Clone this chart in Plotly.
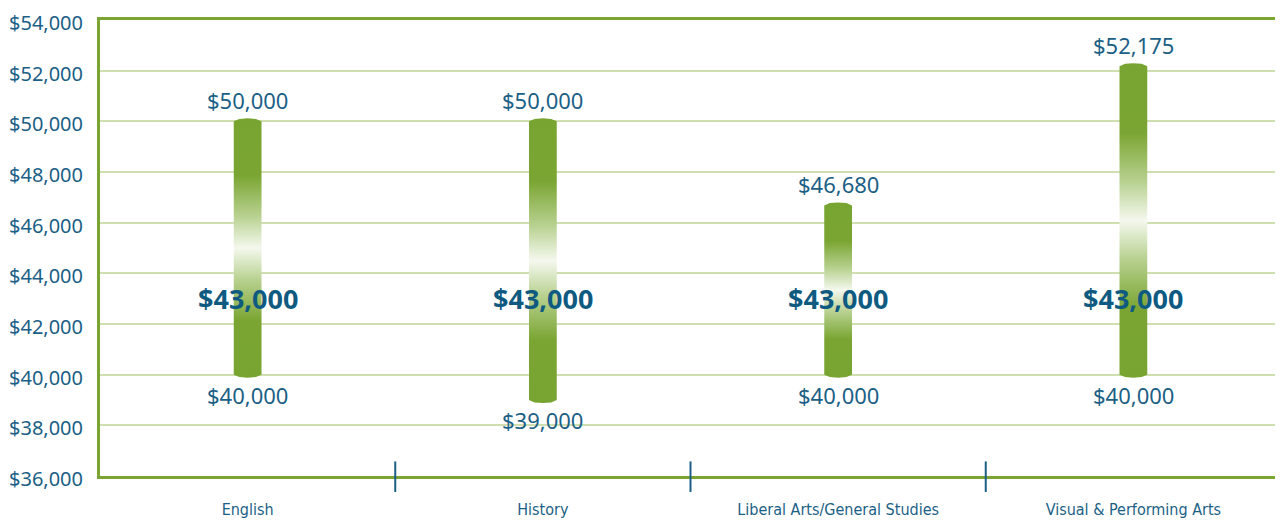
import plotly.graph_objects as go

# salary ranges by major
majors = ['English', 'History', 'Liberal Arts/General Studies', 'Visual & Performing Arts']
low = [40000, 39000, 40000, 40000]
high = [50000, 50000, 46680, 52175]
median = [43000, 43000, 43000, 43000]
yticks = list(range(36000, 54001, 2000))

green = '#78a431'
blue = '#1c5f86'
halfw = 0.047
cap = 120

fig = go.Figure()

for i in range(len(majors)):
    # bar outline with slightly rounded ends
    xs = [i - halfw, i - halfw * 0.6, i, i + halfw * 0.6, i + halfw,
          i + halfw, i + halfw * 0.6, i, i - halfw * 0.6, i - halfw]
    ys = [high[i], high[i] + cap * 0.8, high[i] + cap, high[i] + cap * 0.8, high[i],
          low[i], low[i] - cap * 0.8, low[i] - cap, low[i] - cap * 0.8, low[i]]
    fig.add_trace(go.Scatter(
        x=xs, y=ys, mode='lines', fill='toself',
        line=dict(width=0, color=green),
        fillgradient=dict(type='vertical', colorscale=[
            [0, green], [0.22, '#7aa532'], [0.38, '#b9d292'], [0.5, '#f4f8ee'],
            [0.62, '#b9d292'], [0.78, '#7aa532'], [1, green]]),
        hoverinfo='skip', showlegend=False))

fmt = lambda v: '${:,}'.format(v)
lbl_font = dict(size=22, color=blue, family='Noto Sans')

for i in range(len(majors)):
    fig.add_annotation(x=i, y=high[i], text=fmt(high[i]), showarrow=False,
                       yshift=21, font=lbl_font)
    fig.add_annotation(x=i, y=low[i], text=fmt(low[i]), showarrow=False,
                       yshift=-20, font=lbl_font)
    fig.add_annotation(x=i, y=median[i], text='<b>' + fmt(median[i]) + '</b>',
                       showarrow=False,
                       font=dict(size=27, color='#0f5a80', family='Noto Sans'))

# divider marks between categories
for i in range(len(majors) - 1):
    fig.add_shape(type='line', xref='x', yref='paper', x0=i + 0.5, x1=i + 0.5,
                  y0=-0.035, y1=0.032, line=dict(color=blue, width=2))

# page body keeps an 8px margin, so the figure is sized to the rest of the window
fig.update_layout(
    width=1275, height=513,
    margin=dict(l=92, r=2, t=12, b=45, autoexpand=False),
    plot_bgcolor='white', paper_bgcolor='white',
    xaxis=dict(
        range=[-0.5, len(majors) - 0.5],
        tickvals=list(range(len(majors))), ticktext=majors,
        showgrid=False, zeroline=False, automargin=False,
        showline=True, linecolor='#7aa532', linewidth=3, mirror=True,
        ticks='outside', ticklen=17, tickcolor='rgba(0,0,0,0)',
        tickfont=dict(size=16, color=blue, family='DejaVu Sans Condensed, Roboto'),
    ),
    yaxis=dict(
        range=[36000, 54000],
        tickvals=yticks, ticktext=[fmt(v) for v in yticks],
        showgrid=True, gridcolor='#cfdfb0', gridwidth=1.5, zeroline=False,
        automargin=False, ticklabeloverflow='allow', ticklabelshift=3,
        showline=True, linecolor='#7aa532', linewidth=3, mirror=True,
        ticks='outside', ticklen=10, tickcolor='rgba(0,0,0,0)',
        tickfont=dict(size=20, color=blue, family='Noto Sans'),
    ),
)

fig.write_html('out.html')
